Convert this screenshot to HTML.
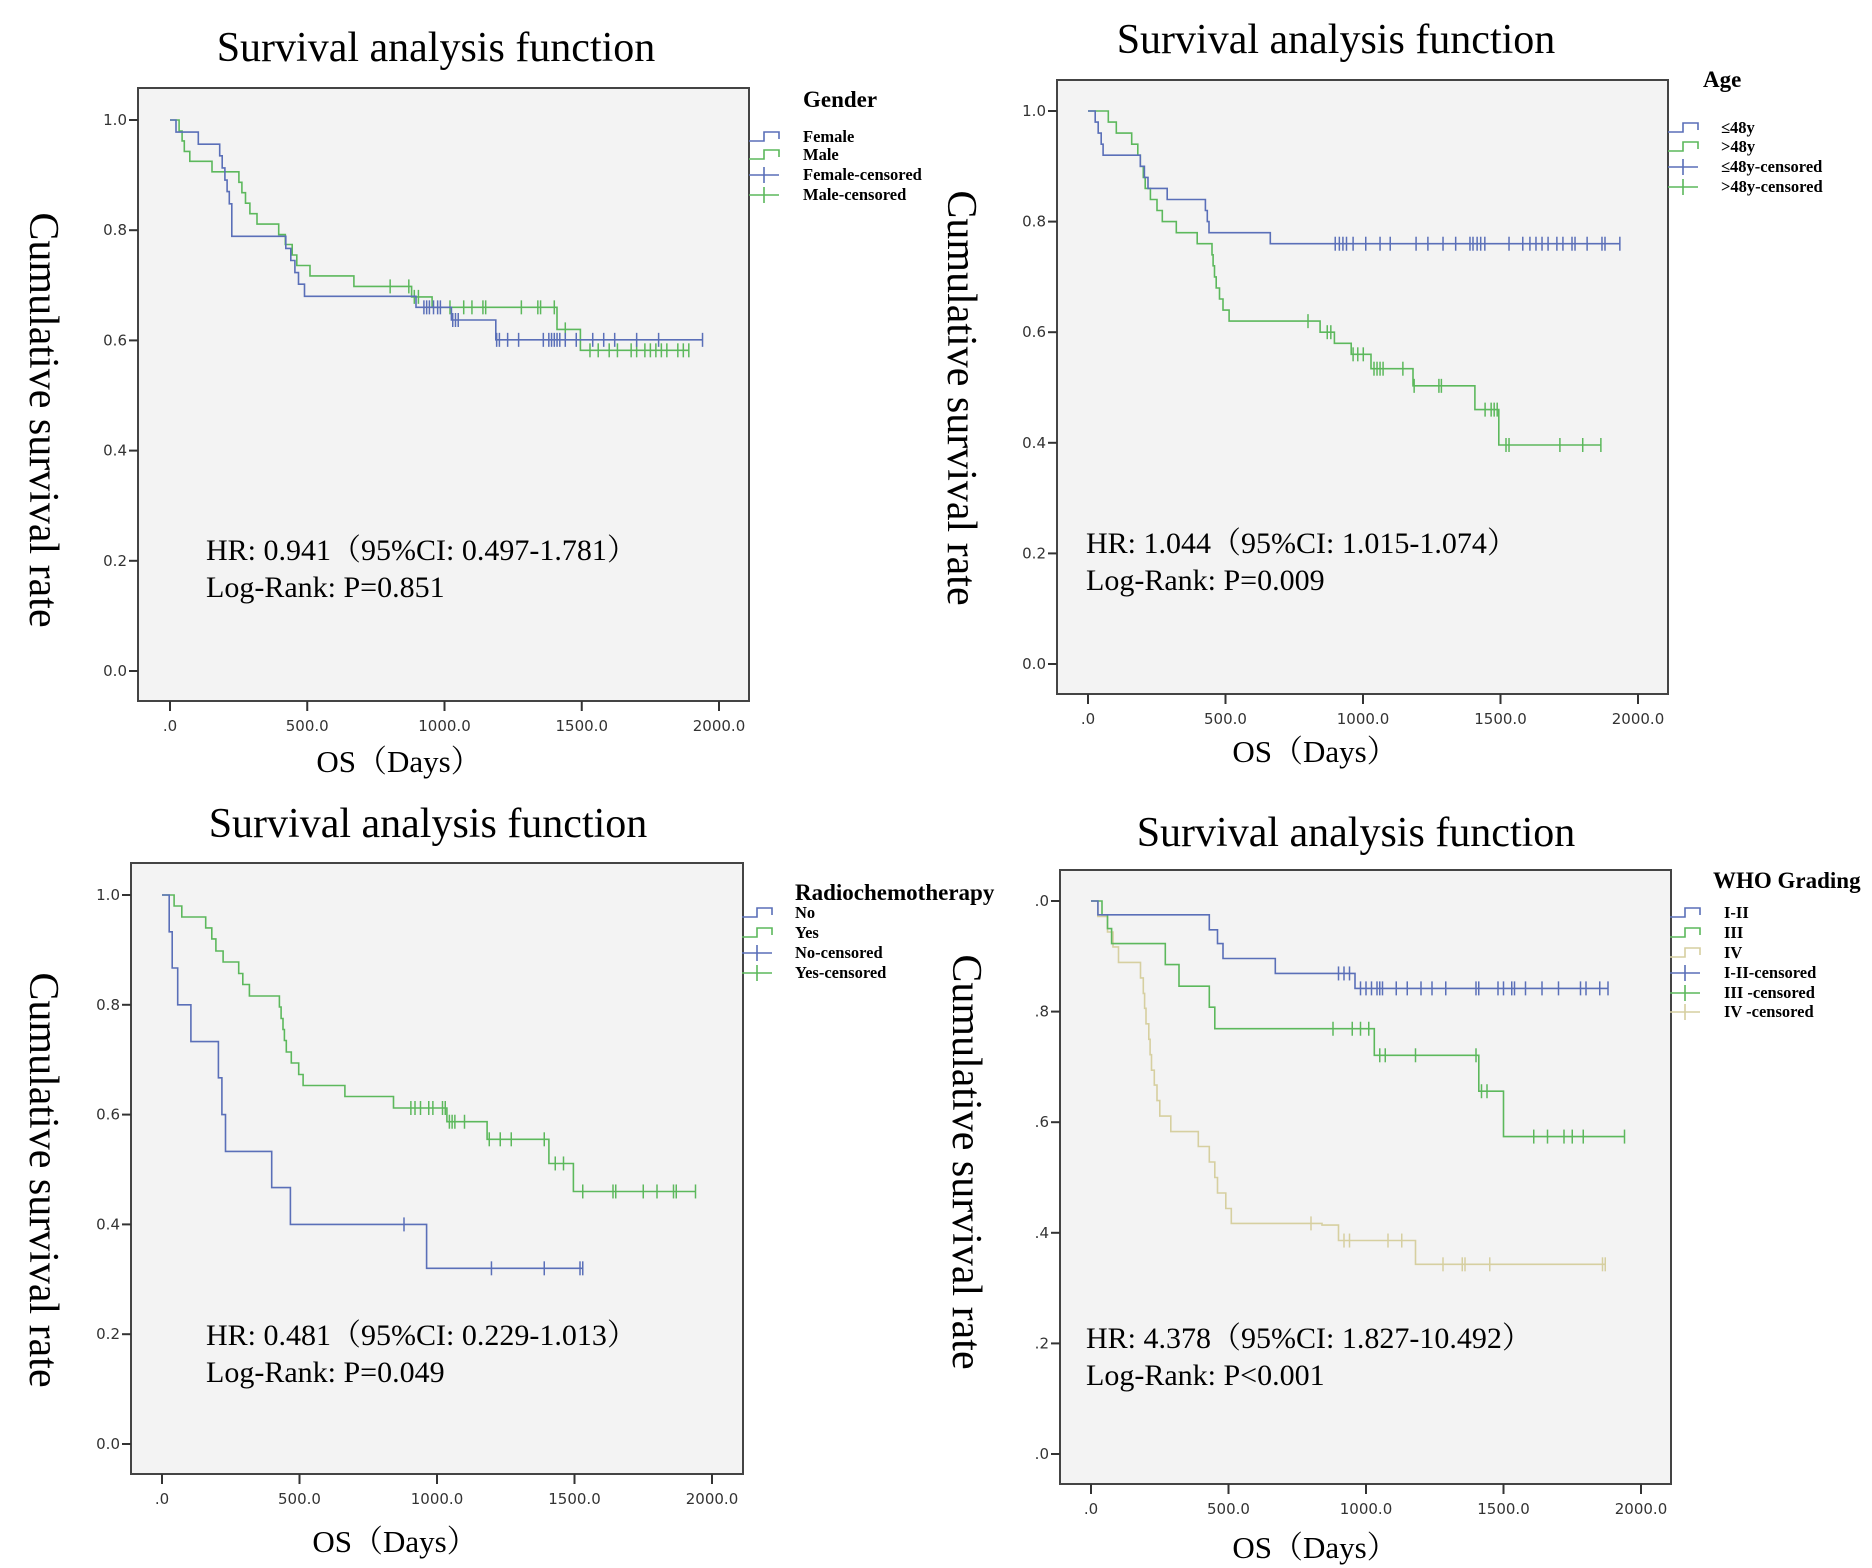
<!DOCTYPE html>
<html><head><meta charset="utf-8"><style>
html,body{margin:0;padding:0;background:#fff;}
svg{display:block;}
.tick{font-family:"DejaVu Sans","Liberation Sans",sans-serif;font-size:15px;fill:#333;}
.serif{font-family:"Liberation Serif",serif;fill:#000;}
.leg{font-family:"Liberation Serif",serif;font-weight:bold;fill:#000;}
</style></head><body>
<svg id="fig" width="1872" height="1568" viewBox="0 0 1872 1568" xmlns="http://www.w3.org/2000/svg"></svg>
<script>
// ---------- data ----------
const xTickVals = [0, 500, 1000, 1500, 2000];
const xTickLabels = [".0", "500.0", "1000.0", "1500.0", "2000.0"];
const yTickVals = [0, 0.2, 0.4, 0.6, 0.8, 1.0];
const yTickLabels = ["0.0", "0.2", "0.4", "0.6", "0.8", "1.0"];

// Panel 1: Gender
const femaleTimes = [22,103,181,190,200,208,216,225,422,440,455,468,490,896,1025,1187];
const femaleSurv  = [0.978,0.956,0.935,0.913,0.891,0.87,0.848,0.789,0.767,0.745,0.723,0.702,0.68,0.66,0.637,0.601];
const femaleCens  = [925,935,945,960,975,985,1030,1040,1050,1190,1200,1230,1270,1360,1380,1390,1400,1410,1420,1440,1480,1540,1580,1620,1700,1780,1940];
const maleTimes = [33,44,52,72,153,251,262,275,291,317,396,420,445,462,510,670,880,955,1410,1495];
const maleSurv  = [0.98,0.962,0.943,0.925,0.906,0.887,0.868,0.849,0.83,0.811,0.792,0.774,0.755,0.736,0.717,0.698,0.679,0.66,0.62,0.582];
const maleCens  = [802,870,890,905,1020,1070,1100,1140,1150,1280,1340,1350,1400,1440,1530,1560,1600,1630,1680,1700,1730,1750,1770,1790,1810,1850,1870,1890];

// Panel 2: Age
const youngTimes = [26,37,48,55,190,205,218,288,427,434,440,663];
const youngSurv  = [0.98,0.96,0.94,0.92,0.90,0.88,0.86,0.84,0.82,0.80,0.78,0.76];
const youngCens  = [899,914,927,940,964,1010,1062,1099,1193,1236,1291,1337,1389,1400,1415,1428,1443,1531,1581,1607,1629,1651,1673,1705,1727,1760,1771,1815,1869,1880,1934];
const oldTimes = [74,103,159,181,190,201,208,227,251,270,321,397,451,455,460,466,478,491,513,844,896,957,1029,1182,1407,1494];
const oldSurv  = [0.98,0.96,0.94,0.92,0.90,0.88,0.86,0.84,0.82,0.80,0.78,0.76,0.74,0.72,0.70,0.68,0.66,0.64,0.62,0.60,0.58,0.56,0.534,0.503,0.46,0.396];
const oldCens  = [800,870,883,964,981,1001,1040,1051,1062,1073,1145,1186,1276,1285,1444,1466,1477,1488,1520,1531,1716,1799,1865];

// Panel 3: Radiochemotherapy
const noTimes = [26,37,57,105,205,218,231,399,467,962];
const noSurv  = [0.933,0.867,0.80,0.733,0.667,0.60,0.533,0.467,0.40,0.32];
const noCens  = [880,1198,1390,1520,1530];
const yesTimes = [44,72,159,181,196,222,279,294,318,427,433,440,445,452,470,497,513,665,842,1036,1182,1407,1496];
const yesSurv  = [0.98,0.96,0.94,0.92,0.898,0.878,0.857,0.837,0.816,0.796,0.775,0.755,0.735,0.714,0.694,0.673,0.653,0.633,0.612,0.587,0.555,0.511,0.46];
const yesCens  = [905,920,940,970,985,1020,1030,1045,1055,1065,1100,1190,1230,1270,1390,1430,1460,1530,1640,1650,1750,1800,1860,1870,1940];

// Panel 4: WHO grading
const g12Times = [25,430,460,480,670,960];
const g12Surv  = [0.975,0.948,0.923,0.896,0.869,0.842];
const g12Cens  = [900,920,940,980,1000,1020,1040,1050,1060,1110,1150,1200,1240,1290,1400,1410,1480,1500,1530,1540,1580,1640,1700,1780,1800,1850,1880];
const g3Times = [40,60,75,270,320,430,450,1030,1410,1500];
const g3Surv  = [0.975,0.95,0.923,0.885,0.846,0.808,0.769,0.721,0.656,0.574];
const g3Cens  = [880,950,980,1010,1050,1070,1180,1400,1420,1440,1610,1660,1720,1750,1790,1940];
const g4Times = [25,60,80,100,180,190,195,200,210,215,220,230,240,250,290,390,430,450,460,490,510,840,900,1180];
const g4Surv  = [0.972,0.944,0.917,0.889,0.861,0.833,0.806,0.778,0.75,0.722,0.694,0.667,0.639,0.611,0.583,0.556,0.528,0.50,0.472,0.444,0.417,0.414,0.386,0.343];
const g4Cens  = [800,920,940,1080,1130,1280,1350,1360,1450,1860,1870];

// ---------- rendering ----------
const NS = "http://www.w3.org/2000/svg";
const svg = document.getElementById("fig");
const BLUE = "#5a6fb8", GREEN = "#5cb85c", KHAKI = "#d6cfa0";

function mk(tag, parent) { const e = document.createElementNS(NS, tag); parent.appendChild(e); return e; }

function survAt(times, surv, t) {
  let s = 1;
  for (let i = 0; i < times.length; i++) if (times[i] <= t) s = surv[i];
  return s;
}

function drawPanel(P) {
  const g = mk("g", svg);
  
  
  const xs = d => P.x0 + (d / 2000) * (P.x2000 - P.x0);
  const ys = v => P.y0 + v * (P.y1 - P.y0);

  const box = mk("rect", g);
  
  
  box.setAttribute("x", P.left); box.setAttribute("y", P.top);
  box.setAttribute("width", P.right - P.left); box.setAttribute("height", P.bottom - P.top);
  box.setAttribute("fill", "#f3f3f3"); box.setAttribute("stroke", "#444"); box.setAttribute("stroke-width", "2");

  yTickVals.forEach((v, i) => {
    const tk = mk("line", g);
    
    
    tk.setAttribute("x1", P.left - 9); tk.setAttribute("x2", P.left);
    tk.setAttribute("y1", ys(v)); tk.setAttribute("y2", ys(v));
    tk.setAttribute("stroke", "#333"); tk.setAttribute("stroke-width", "2");
    const t = mk("text", g);
    
    
    t.setAttribute("class", "tick"); t.setAttribute("text-anchor", "end");
    t.setAttribute("x", P.left - 11); t.setAttribute("y", ys(v) + 5);
    if (P.clipX) t.setAttribute("clip-path", "url(#clip4)");
    t.textContent = yTickLabels[i];
  });
  xTickVals.forEach((v, i) => {
    const tk = mk("line", g);
    
    
    tk.setAttribute("x1", xs(v)); tk.setAttribute("x2", xs(v));
    tk.setAttribute("y1", P.bottom); tk.setAttribute("y2", P.bottom + 10);
    tk.setAttribute("stroke", "#333"); tk.setAttribute("stroke-width", "2");
    const t = mk("text", g);
    
    
    t.setAttribute("class", "tick"); t.setAttribute("text-anchor", "middle");
    t.setAttribute("x", xs(v)); t.setAttribute("y", P.bottom + 30);
    t.textContent = xTickLabels[i];
  });

  P.series.forEach(S => {
    let d = "M" + xs(0) + "," + ys(1);
    S.times.forEach((t, i) => { d += " H" + xs(t).toFixed(1) + " V" + ys(S.surv[i]).toFixed(1); });
    const end = Math.max(S.times[S.times.length - 1], S.cens.length ? S.cens[S.cens.length - 1] : 0);
    d += " H" + xs(end).toFixed(1);
    const p = mk("path", g);
    
    
    p.setAttribute("d", d); p.setAttribute("fill", "none");
    p.setAttribute("stroke", S.color); p.setAttribute("stroke-width", "1.6");
    S.cens.forEach(c => {
      const m = mk("line", g);
      
      
      const y = ys(survAt(S.times, S.surv, c));
      m.setAttribute("x1", xs(c)); m.setAttribute("x2", xs(c));
      m.setAttribute("y1", y - 7); m.setAttribute("y2", y + 7);
      m.setAttribute("stroke", S.color); m.setAttribute("stroke-width", "1.5");
    });
  });

  const tt = mk("text", g);
  
  
  tt.setAttribute("class", "serif"); tt.setAttribute("style", "font-size:42px");
  tt.setAttribute("text-anchor", "middle"); tt.setAttribute("x", P.titleX); tt.setAttribute("y", P.titleY);
  tt.textContent = "Survival analysis function";

  const yl = mk("text", g);
  
  
  yl.setAttribute("class", "serif"); yl.setAttribute("style", "font-size:42px");
  yl.setAttribute("text-anchor", "middle");
  yl.setAttribute("transform", "translate(" + P.ylX + "," + P.ylY + ") rotate(90)");
  yl.textContent = "Cumulative survival rate";

  const xl = mk("text", g);
  
  
  xl.setAttribute("class", "serif");
  xl.setAttribute("style", 'font-size:31px;font-family:"Liberation Serif","Noto Serif CJK SC",serif');
  xl.setAttribute("text-anchor", "middle"); xl.setAttribute("x", P.xlX); xl.setAttribute("y", P.xlY);
  xl.textContent = "OS（Days）";

  const h1 = mk("text", g);
  
  
  h1.setAttribute("class", "serif");
  h1.setAttribute("style", 'font-size:30px;font-family:"Liberation Serif","Noto Serif CJK SC",serif');
  h1.setAttribute("x", P.hrX); h1.setAttribute("y", P.hrY);
  h1.textContent = P.hr;
  const h2 = mk("text", g);
  
  
  h2.setAttribute("class", "serif"); h2.setAttribute("style", "font-size:30px");
  h2.setAttribute("x", P.hrX); h2.setAttribute("y", P.hrY + 37);
  h2.textContent = P.lr;

  const lt = mk("text", g);
  
  
  lt.setAttribute("class", "leg"); lt.setAttribute("style", "font-size:23px");
  lt.setAttribute("x", P.legTitleX); lt.setAttribute("y", P.legTitleY + 8);
  lt.textContent = P.legTitle;
  P.legend.forEach((L, i) => {
    const y = P.legY[i];
    const sx = P.symX;
    const sym = mk("path", g);
    
    
    if (L.cens) sym.setAttribute("d", `M${sx},${y} H${sx + 30} M${sx + 15},${y - 8} V${y + 8}`);
    else sym.setAttribute("d", `M${sx},${y + 4} H${sx + 15} V${y - 5} H${sx + 30} V${y + 2}`);
    sym.setAttribute("fill", "none"); sym.setAttribute("stroke", L.color); sym.setAttribute("stroke-width", "1.6");
    const t = mk("text", g);
    
    
    t.setAttribute("class", "leg"); t.setAttribute("style", "font-size:16.5px");
    t.setAttribute("x", P.legTextX); t.setAttribute("y", y + 5);
    t.textContent = L.label;
  });
}

const defs = mk("defs", svg);
const cp = mk("clipPath", defs); cp.setAttribute("id", "clip4");
const cr = mk("rect", cp); cr.setAttribute("x", 1034); cr.setAttribute("y", 850); cr.setAttribute("width", 40); cr.setAttribute("height", 650);

drawPanel({name:"gender-panel", left:138, top:88, right:749, bottom:701, x0:170, x2000:719, y1:120, y0:671,
  titleX:436, titleY:61, ylX:30, ylY:420, xlX:399, xlY:772, hrX:206, hrY:560, hr:"HR: 0.941（95%CI: 0.497-1.781）", lr:"Log-Rank: P=0.851",
  legTitle:"Gender", legTitleX:803, legTitleY:99, legTextX:803, symX:749, legY:[137,155,175,195],
  legend:[{label:"Female",color:BLUE},{label:"Male",color:GREEN},{label:"Female-censored",color:BLUE,cens:1},{label:"Male-censored",color:GREEN,cens:1}],
  series:[{key:"male",times:maleTimes,surv:maleSurv,cens:maleCens,color:GREEN},{key:"female",times:femaleTimes,surv:femaleSurv,cens:femaleCens,color:BLUE}]});

drawPanel({name:"age-panel", left:1057, top:80, right:1668, bottom:694, x0:1088, x2000:1638, y1:111, y0:664,
  titleX:1336, titleY:53, ylX:948, ylY:398, xlX:1315, xlY:762, hrX:1086, hrY:553, hr:"HR: 1.044（95%CI: 1.015-1.074）", lr:"Log-Rank: P=0.009",
  legTitle:"Age", legTitleX:1703, legTitleY:79, legTextX:1721, symX:1668, legY:[128,147,167,187],
  legend:[{label:"≤48y",color:BLUE},{label:">48y",color:GREEN},{label:"≤48y-censored",color:BLUE,cens:1},{label:">48y-censored",color:GREEN,cens:1}],
  series:[{key:"over48",times:oldTimes,surv:oldSurv,cens:oldCens,color:GREEN},{key:"under48",times:youngTimes,surv:youngSurv,cens:youngCens,color:BLUE}]});

drawPanel({name:"radiochemotherapy-panel", left:131, top:863, right:743, bottom:1474, x0:162, x2000:712, y1:895, y0:1444,
  titleX:428, titleY:837, ylX:30, ylY:1180, xlX:395, xlY:1552, hrX:206, hrY:1345, hr:"HR: 0.481（95%CI: 0.229-1.013）", lr:"Log-Rank: P=0.049",
  legTitle:"Radiochemotherapy", legTitleX:795, legTitleY:892, legTextX:795, symX:742, legY:[913,933,953,973],
  legend:[{label:"No",color:BLUE},{label:"Yes",color:GREEN},{label:"No-censored",color:BLUE,cens:1},{label:"Yes-censored",color:GREEN,cens:1}],
  series:[{key:"yes",times:yesTimes,surv:yesSurv,cens:yesCens,color:GREEN},{key:"no",times:noTimes,surv:noSurv,cens:noCens,color:BLUE}]});

drawPanel({name:"who-grading-panel", left:1060, top:870, right:1671, bottom:1484, x0:1091, x2000:1641, y1:901, y0:1454,
  titleX:1356, titleY:846, ylX:953, ylY:1162, xlX:1315, xlY:1558, hrX:1086, hrY:1348, hr:"HR: 4.378（95%CI: 1.827-10.492）", lr:"Log-Rank: P<0.001",
  legTitle:"WHO Grading", legTitleX:1713, legTitleY:880, legTextX:1724, symX:1670, legY:[913,933,953,973,993,1012], clipX:true,
  legend:[{label:"I-II",color:BLUE},{label:"III",color:GREEN},{label:"IV",color:KHAKI},{label:"I-II-censored",color:BLUE,cens:1},{label:"III -censored",color:GREEN,cens:1},{label:"IV -censored",color:KHAKI,cens:1}],
  series:[{key:"grade-4",times:g4Times,surv:g4Surv,cens:g4Cens,color:KHAKI},{key:"grade-3",times:g3Times,surv:g3Surv,cens:g3Cens,color:GREEN},{key:"grade-1-2",times:g12Times,surv:g12Surv,cens:g12Cens,color:BLUE}]});
</script>
</body></html>
